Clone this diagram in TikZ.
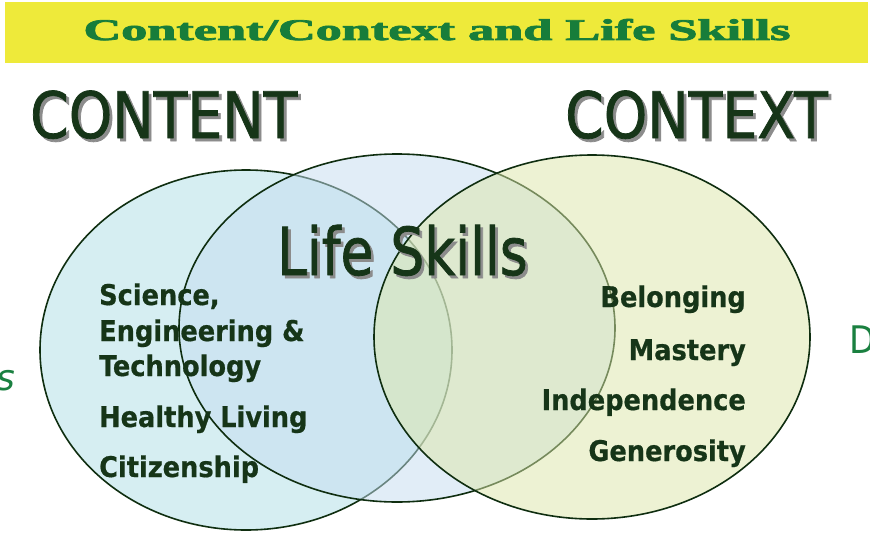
\documentclass[tikz,border=0pt]{standalone}
\usepackage{fontspec}
\usepackage{graphicx}
\setmainfont{DejaVu Sans}
\newfontfamily\condfont{DejaVu Sans Condensed}
\newfontfamily\bigfont[FakeBold=1.2]{DejaVu Sans Condensed}
\newfontfamily\labelfont[FakeBold=0.6]{DejaVu Sans Condensed Bold}
\newfontfamily\titlefont[FakeBold=2.4]{Liberation Serif Bold}
\definecolor{barYellow}{HTML}{EEEA3A}
\definecolor{titleGreen}{HTML}{177D3A}
\definecolor{inkGreen}{HTML}{163518}
\definecolor{edgeGreen}{HTML}{0F2E10}
\definecolor{shadowGray}{HTML}{8C8C8C}
\definecolor{leftFill}{HTML}{AFDFE7}
\definecolor{midFill}{HTML}{C5DDF1}
\definecolor{rightFill}{HTML}{DDE7A9}
\definecolor{sideGreen}{HTML}{1A8040}
% text with a soft grey drop shadow
\newcommand\dropshadow[1]{\makebox[0pt][l]{\hspace{3pt}\raisebox{-3pt}{\color{shadowGray}#1}}#1}
\tikzset{
  label/.style={inner sep=0pt, text=inkGreen, font=\labelfont\fontsize{28.5}{30}\selectfont},
  bigword/.style={inner sep=0pt, text=inkGreen, font=\bigfont\fontsize{64}{70}\selectfont},
  venn/.style={draw=edgeGreen, line width=1.6pt, fill opacity=0.5},
}
\begin{document}
\begin{tikzpicture}[x=1pt,y=-1pt]
\useasboundingbox (0,0) rectangle (870,535);
\fill[white] (0,0) rectangle (870,535);

% title bar
\fill[barYellow] (5,2) rectangle (868,63);
\node[inner sep=0pt, text=titleGreen, anchor=base] (title) at (437,40)
  {\resizebox{707pt}{\height}{\titlefont\fontsize{30}{32}\selectfont Content/Context and Life Skills}};

% partly visible words at the edges
\node[inner sep=0pt, anchor=base east, text=sideGreen, font=\itshape\fontsize{36}{40}\selectfont] (leftword) at (15,390) {s};
\node[inner sep=0pt, anchor=base west, text=sideGreen, font=\condfont\fontsize{38}{40}\selectfont] (rightword) at (849,353) {D};

% the three overlapping sets
\path[venn, fill=leftFill]  (246,350) ellipse [x radius=206, y radius=180];
\path[venn, fill=midFill]   (397,328) ellipse [x radius=218, y radius=174];
\path[venn, fill=rightFill] (592,337) ellipse [x radius=218, y radius=182];

% headings
\node[bigword, anchor=base west, xscale=0.96] (content) at (30,138) {\dropshadow{CONTENT}};
\node[bigword, anchor=base west, xscale=0.96] (context) at (565,138) {\dropshadow{CONTEXT}};
\node[bigword, anchor=base west, font=\bigfont\fontsize{66}{70}\selectfont, xscale=0.9] (life) at (277,275) {\dropshadow{Life Skills}};

% content areas
\node[label, anchor=base west] (sci) at (99,305) {Science,};
\node[label, anchor=base west] (eng) at (99,341) {Engineering \&};
\node[label, anchor=base west] (tech) at (99,376) {Technology};
\node[label, anchor=base west] (health) at (99,427) {Healthy Living};
\node[label, anchor=base west] (citizen) at (99,477) {Citizenship};

% context areas
\node[label, anchor=base east] (belong) at (746,307) {Belonging};
\node[label, anchor=base east] (mastery) at (746,360) {Mastery};
\node[label, anchor=base east] (indep) at (746,410) {Independence};
\node[label, anchor=base east] (gener) at (746,461) {Generosity};
\end{tikzpicture}
\end{document}
